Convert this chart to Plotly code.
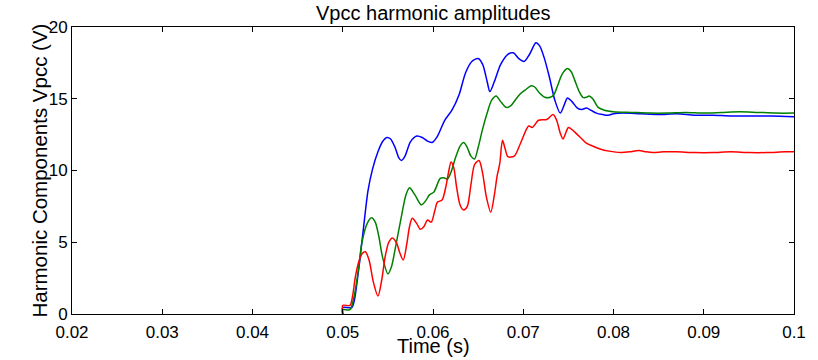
import plotly.graph_objects as go

# ---- data ----
t_blue = [0.0500,0.05001,0.0510,0.0513,0.0516,0.0519,0.0523,0.0528,0.0533,0.0539,0.0544,0.0549,0.0553,0.0558,0.0562,0.0565,0.0569,0.0575,0.0582,0.0588,0.0594,0.0599,0.0605,0.0613,0.0621,0.0629,0.0636,0.0643,0.0650,0.0655,0.0660,0.0663,0.0668,0.0675,0.0683,0.0689,0.0695,0.0701,0.0707,0.0714,0.0718,0.0723,0.0729,0.0735,0.0741,0.0745,0.0749,0.0754,0.0760,0.0765,0.0770,0.0775,0.0781,0.0788,0.0794,0.0800,0.0810,0.0830,0.0850,0.0870,0.0890,0.0910,0.0930,0.0950,0.0975,0.1000]
v_blue = [0,0.45,0.45,1.0,2.3,3.8,6.0,8.6,10.1,11.3,12.0,12.3,12.2,11.6,10.9,10.7,11.0,12.0,12.4,12.3,12.05,11.95,12.4,13.5,14.2,15.3,16.8,17.6,17.8,17.4,16.2,15.5,16.2,17.4,18.1,18.2,17.8,17.6,18.1,18.9,18.7,17.9,16.5,14.9,14.0,14.5,15.05,14.8,14.35,14.25,14.35,14.2,14.0,13.9,13.85,13.95,14.0,13.95,13.9,13.95,13.85,13.85,13.8,13.8,13.8,13.75]

t_green = [0.0500,0.05001,0.0508,0.0511,0.0514,0.0518,0.0521,0.0527,0.0532,0.0536,0.0540,0.0544,0.0550,0.0554,0.0558,0.0565,0.0570,0.0574,0.0580,0.0587,0.0592,0.0596,0.0601,0.0608,0.0612,0.0616,0.0620,0.0625,0.0630,0.0634,0.0638,0.0642,0.0646,0.0650,0.0655,0.0660,0.0665,0.0670,0.0675,0.0681,0.0686,0.0691,0.0696,0.0702,0.0709,0.0713,0.0718,0.0724,0.0730,0.0734,0.0738,0.0743,0.0749,0.0753,0.0757,0.0762,0.0766,0.0770,0.0773,0.0777,0.0783,0.0790,0.0800,0.0820,0.0840,0.0860,0.0880,0.0900,0.0920,0.0940,0.0960,0.0980,0.1000]
v_green = [0,0.3,0.3,0.8,1.7,3.4,4.9,6.3,6.7,6.4,5.4,4.0,2.8,3.3,4.5,6.8,8.3,8.8,8.3,7.6,7.9,8.3,8.5,9.45,9.5,9.4,9.9,10.9,11.7,11.95,11.6,11.0,10.8,11.6,12.9,14.0,14.9,15.2,14.8,14.4,14.5,14.9,15.3,15.6,15.9,15.8,15.4,15.1,15.1,15.3,15.9,16.7,17.1,16.9,16.3,15.5,15.1,15.1,15.2,15.0,14.4,14.2,14.1,14.05,14.0,14.0,14.05,14.0,14.05,14.1,14.05,14.0,14.0]

t_red = [0.0500,0.05001,0.0508,0.0511,0.0514,0.0518,0.0522,0.0525,0.0529,0.0534,0.0539,0.0543,0.0547,0.0551,0.0555,0.0560,0.0563,0.0567,0.0571,0.0574,0.0577,0.0582,0.0586,0.0590,0.0594,0.0598,0.0602,0.0605,0.0610,0.0614,0.0617,0.0620,0.0623,0.0626,0.0630,0.0634,0.0638,0.0642,0.0646,0.0651,0.0655,0.0659,0.0664,0.0668,0.0671,0.0674,0.0677,0.0680,0.0683,0.0690,0.0697,0.0706,0.0710,0.0717,0.0726,0.0733,0.0737,0.0741,0.0744,0.0747,0.0750,0.0755,0.0760,0.0765,0.0770,0.0777,0.0785,0.0795,0.0808,0.0818,0.0828,0.0836,0.0844,0.0855,0.0870,0.0890,0.0910,0.0930,0.0950,0.0970,0.0990,0.1000]
v_red = [0,0.6,0.6,1.3,2.6,3.7,4.25,4.34,3.8,2.2,1.25,2.3,4.0,5.0,5.3,4.9,4.3,3.76,4.9,6.1,6.67,6.3,5.9,6.1,6.55,6.4,7.2,7.8,7.94,8.8,9.8,10.6,10.2,8.9,7.6,7.25,7.5,9.0,10.4,10.7,9.8,8.2,7.1,8.3,9.6,10.5,12.1,11.5,10.96,11.0,11.9,13.1,13.0,13.5,13.55,13.9,13.5,12.6,12.2,12.6,13.0,12.8,12.5,12.2,11.9,11.7,11.5,11.35,11.25,11.3,11.4,11.3,11.25,11.3,11.3,11.25,11.25,11.3,11.25,11.25,11.3,11.3]

x_ticks = [0.02, 0.03, 0.04, 0.05, 0.06, 0.07, 0.08, 0.09, 0.1]
x_tick_labels = ["0.02", "0.03", "0.04", "0.05", "0.06", "0.07", "0.08", "0.09", "0.1"]
y_ticks = [0, 5, 10, 15, 20]
y_tick_labels = ["0", "5", "10", "15", "20"]

title_text = "Vpcc harmonic amplitudes"
x_label = "Time (s)"
y_label = "Harmonic Components Vpcc (V)"

FONT = "Liberation Sans, Arial, sans-serif"

fig = go.Figure()
for t, v, c in [(t_blue, v_blue, "#0000ff"), (t_green, v_green, "#008000"), (t_red, v_red, "#ff0000")]:
    fig.add_trace(go.Scatter(x=t, y=v, mode="lines",
                             line=dict(color=c, width=1.5, shape="spline", smoothing=0.8),
                             showlegend=False, hoverinfo="skip"))

axis_common = dict(showline=True, linecolor="black", linewidth=1, mirror="ticks",
                   ticks="inside", ticklen=5, tickcolor="black", tickwidth=1,
                   showgrid=False, zeroline=False,
                   tickfont=dict(family=FONT, size=17, color="black"))

fig.update_xaxes(range=[0.02, 0.1], tickvals=x_ticks, ticktext=x_tick_labels,
                 ticklabelstandoff=3, **axis_common)
fig.update_yaxes(range=[0, 20], tickvals=y_ticks, ticktext=y_tick_labels, **axis_common)

fig.update_layout(
    width=818, height=360,
    margin=dict(l=72, r=12, t=27, b=46, pad=0),
    paper_bgcolor="white", plot_bgcolor="white",
    annotations=[
        dict(text=title_text, xref="paper", yref="paper", x=0.5, y=1.0, yshift=14,
             xanchor="center", yanchor="middle", showarrow=False,
             font=dict(family=FONT, size=20, color="black")),
        dict(text=x_label, xref="paper", yref="paper", x=0.5, y=0, yshift=-32,
             xanchor="center", yanchor="middle", showarrow=False,
             font=dict(family=FONT, size=20, color="black")),
        dict(text=y_label, xref="paper", yref="paper", x=0, xshift=-33, y=0.5,
             xanchor="center", yanchor="middle", showarrow=False, textangle=-90,
             font=dict(family=FONT, size=20.5, color="black")),
    ],
)

fig.write_html("out.html")
